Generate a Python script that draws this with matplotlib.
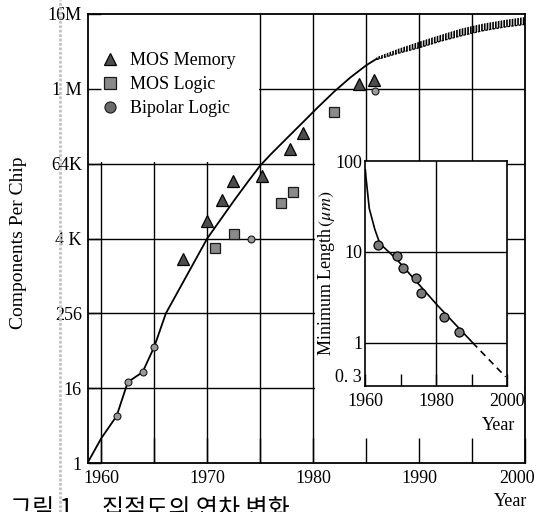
import numpy as np
import matplotlib
matplotlib.use("Agg")
import matplotlib.pyplot as plt
import matplotlib.transforms as mtransforms
from matplotlib.patches import Rectangle
from matplotlib.lines import Line2D

plt.rcParams['font.family'] = ['Liberation Serif', 'Noto Sans CJK KR']
plt.rcParams['mathtext.fontset'] = 'stix'
plt.rcParams['hatch.linewidth'] = 1.2

# trend curve (components per chip)
curve_years = [1958.7, 1960.0, 1961.45, 1962.5, 1963.9, 1965.0, 1966.1, 1970.0,
               1972.5, 1973.8, 1975.0, 1976.0, 1977.5, 1979.0, 1980.5, 1982.0,
               1983.5, 1985.0, 1986.0]
curve_counts = [1, 2.5, 5.7, 20, 29, 74, 256, 4096,
                16400, 32800, 61000, 92700, 167000, 300000, 540000, 950000,
                1.59e6, 2.5e6, 3.2e6]

# uncertain extrapolation band
band_years = [1986, 1988, 1990, 1992, 1994, 1996, 1998, 2000]
band_low = [3.1e6, 3.9e6, 4.8e6, 6.1e6, 7.5e6, 9.0e6, 10.3e6, 11.4e6]
band_high = [3.4e6, 4.6e6, 6.0e6, 7.7e6, 9.8e6, 11.7e6, 13.4e6, 15.0e6]

mem_years = [1967.7, 1970.0, 1971.4, 1972.4, 1975.2, 1977.8, 1979.0, 1984.3, 1985.7]
mem_counts = [1950, 7900, 17000, 34000, 41000, 112000, 205000, 1.25e6, 1.44e6]

logic_years = [1970.7, 1972.5, 1977.0, 1978.1, 1982.0]
logic_counts = [2850, 4900, 15000, 23000, 440000]

bip_years = [1961.45, 1962.5, 1963.9, 1965.0, 1974.1, 1985.8]
bip_counts = [5.7, 20, 29, 74, 3950, 960000]

ytick_vals = [2**0, 2**4, 2**8, 2**12, 2**16, 2**20, 2**24]
ytick_labels = ['1', '16', '256', '4 K', '64K', '1 M', '16M']
xtick_vals = [1960, 1965, 1970, 1975, 1980, 1985, 1990, 1995, 2000]
xtick_labels = ['1960', '', '1970', '', '1980', '', '1990', '', '2000']

# inset: minimum feature length
in_curve_years = [1960.1, 1960.3, 1961.2, 1962.8, 1964.2, 1968.9, 1980.3, 1990.3]
in_curve_len = [80, 65, 30, 17.5, 12.3, 8.3, 2.6, 1.0]
in_dash_years = [1990.3, 1999.6]
in_dash_len = [1.0, 0.42]
in_pt_years = [1963.6, 1968.9, 1970.8, 1974.3, 1975.7, 1982.3, 1986.5]
in_pt_len = [12.0, 9.0, 6.7, 5.1, 3.5, 1.9, 1.3]
in_ytick_vals = [0.333, 1, 10, 100]
in_ytick_labels = ['0. 3', '1', '10', '100']
in_xtick_vals = [1960, 1970, 1980, 1990, 2000]
in_xtick_labels = ['1960', '', '1980', '', '2000']

W, H = 539, 512
fig = plt.figure(figsize=(W / 100, H / 100), dpi=100)

ax = fig.add_axes([87.5 / W, 49 / H, 437.5 / W, 449 / H])
ax.set_yscale('log', base=2)
ax.set_xlim(1958.7, 2000)
ax.set_ylim(1, 2**24)

for yr in xtick_vals[:-1]:
    ax.axvline(yr, color='k', lw=1.0, zorder=0.8)
for v in ytick_vals[1:-1]:
    ax.axhline(v, color='k', lw=1.0, zorder=0.8)

# blank areas for legend and inset labels
ax.add_patch(Rectangle((1958.7, 2**16.07), 1974.85 - 1958.7, 2**24 - 2**16.07,
                       facecolor='white', edgecolor='none', zorder=1))
ax.add_patch(Rectangle((1980.15, 1.03), 1998.3 - 1980.15, 2**16.1 - 1.03,
                       facecolor='white', edgecolor='none', zorder=1))
ax.add_patch(Rectangle((1998.2, 1.03), 1999.9 - 1998.2, 2**6 - 1.03,
                       facecolor='white', edgecolor='none', zorder=1))

ax.plot(curve_years, curve_counts, color='k', lw=1.3, zorder=2)
ax.fill_between(band_years, band_low, band_high, facecolor='none',
                edgecolor='k', hatch='||||||', lw=0, zorder=2)
ax.plot(band_years, band_low, color='k', lw=0.9, ls=(0, (2, 1)), zorder=2)

ax.plot(mem_years, mem_counts, ls='none', marker='^', ms=9, mfc='#4d4d4d',
        mec='k', mew=0.9, label='MOS Memory', zorder=4)
ax.plot(logic_years, logic_counts, ls='none', marker='s', ms=7, mfc='#8a8a8a',
        mec='#1a1a1a', mew=0.9, label='MOS Logic', zorder=4)
ax.plot(bip_years, bip_counts, ls='none', marker='o', ms=5, mfc='#9a9a9a',
        mec='#1a1a1a', mew=0.8, label='Bipolar Logic', zorder=4)

leg = ax.legend(loc='upper left', bbox_to_anchor=(0.03, 0.915), frameon=False,
                fontsize=13, handlelength=1.0, handletextpad=0.6,
                labelspacing=0.38, borderpad=0, borderaxespad=0)
leg.legend_handles[1].set_markersize(9)
leg.legend_handles[2].set_markersize(8)
leg.legend_handles[2].set_markerfacecolor('#6a6a6a')

ax.set_xticks(xtick_vals)
ax.set_xticklabels(xtick_labels)
ax.set_yticks(ytick_vals)
ax.set_yticklabels(ytick_labels)
ax.yaxis.set_minor_locator(matplotlib.ticker.NullLocator())
ax.tick_params(axis='x', direction='in', length=18, width=1.0, labelsize=13, pad=5)
ax.tick_params(axis='y', direction='in', length=9, width=1.0, labelsize=13, pad=4)
for s in ax.spines.values():
    s.set_linewidth(1.3)
# last year label sits a little left of the corner
last = ax.get_xticklabels()[-1]
last.set_transform(last.get_transform() +
                   mtransforms.ScaledTranslation(-0.08, 0, fig.dpi_scale_trans))

ax.set_ylabel('Components Per Chip', fontsize=14)
ax.yaxis.set_label_coords(-0.138, 0.49)

# inset
ax_in = fig.add_axes([365 / W, 1 - 386 / H, 142 / W, 225 / H])
ax_in.set_yscale('log')
ax_in.set_xlim(1960, 2000)
ax_in.set_ylim(0.333, 100)
ax_in.axhline(10, color='k', lw=1.0, zorder=0.8)
ax_in.axhline(1, color='k', lw=1.0, zorder=0.8)
ax_in.axvline(1980, color='k', lw=1.0, zorder=0.8)
ax_in.plot(in_curve_years, in_curve_len, color='k', lw=1.2, zorder=2)
ax_in.plot(in_dash_years, in_dash_len, color='k', lw=1.2, ls=(0, (4, 3)), zorder=2)
ax_in.plot(in_pt_years, in_pt_len, ls='none', marker='o', ms=6.5, mfc='#7a7a7a',
           mec='k', mew=0.9, zorder=3)
ax_in.set_xticks(in_xtick_vals)
ax_in.set_xticklabels(in_xtick_labels)
ax_in.set_yticks(in_ytick_vals)
ax_in.set_yticklabels(in_ytick_labels)
ax_in.yaxis.set_minor_locator(matplotlib.ticker.NullLocator())
ax_in.tick_params(axis='x', direction='in', length=9, width=1.0, labelsize=13, pad=5)
ax_in.tick_params(axis='y', direction='in', length=0, labelsize=13, pad=2)
ax_in.get_yticklabels()[0].set_verticalalignment('bottom')
for s in ax_in.spines.values():
    s.set_linewidth(1.2)
ax_in.set_ylabel(r'Minimum Length$\,(\mu m)$', fontsize=13)
ax_in.yaxis.set_label_coords(-0.197, 0.5)

fig.text(499 / W, 1 - 425 / H, 'Year', fontsize=13, ha='center', va='center')
fig.text(511 / W, 1 - 502 / H, 'Year', fontsize=13, ha='center', va='center')

# caption
fig.text(10 / W, 1 - 516 / H, '그림 1', fontsize=17.3, family='Noto Sans CJK KR',
         va='baseline')
fig.text(102 / W, 1 - 516 / H, '집적도의 연차 변화', fontsize=17.3,
         family='Noto Sans CJK KR', va='baseline')

# scan edge line
fig.add_artist(Line2D([60 / W, 60 / W], [0, 1], transform=fig.transFigure,
                      color='#c4c4c4', lw=2, ls=(0, (1, 0.6))))

fig.savefig('out.png', dpi=100)
